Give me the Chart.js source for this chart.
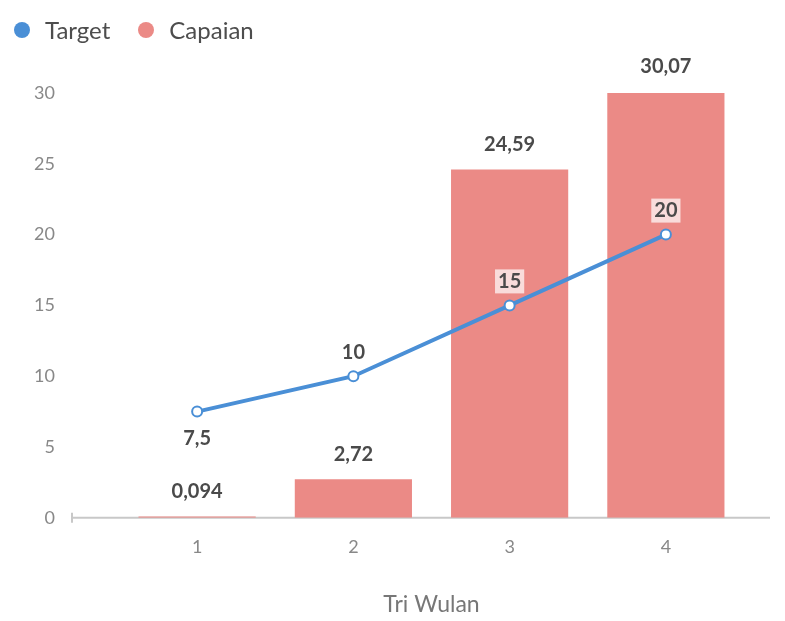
<!DOCTYPE html>
<html>
<head>
<meta charset="utf-8">
<script src="https://cdn.jsdelivr.net/npm/chart.js@4"></script>
<style>
  html, body { margin: 0; padding: 0; background: #fff; }
  #wrap { position: relative; width: 785px; height: 621px; }
  .legend { position: absolute; top: 16px; left: 14px; display: flex; align-items: center;
            font-family: Lato, sans-serif; font-size: 24px; color: #4d4d4d; line-height: 28px; }
  .legend .item { display: flex; align-items: center; margin-right: 28px; }
  .legend .dot { width: 16px; height: 16px; border-radius: 50%; margin-right: 15px; }
</style>
</head>
<body>
<div id="wrap">
  <canvas id="chart" width="785" height="621"></canvas>
  <div class="legend" id="legend"></div>
</div>
<script>
/* --- DATA --- */
const CATEGORIES = ['1', '2', '3', '4'];
const SERIES = ['Target', 'Capaian'];
const TARGET = [7.5, 10, 15, 20];
const CAPAIAN = [0.094, 2.72, 24.59, 30.07];
const TARGET_LABELS = ['7,5', '10', '15', '20'];
const CAPAIAN_LABELS = ['0,094', '2,72', '24,59', '30,07'];
const Y_TICKS = [0, 5, 10, 15, 20, 25, 30];

const BLUE = '#4a8fd6';
const PINK = '#eb8a86';

// value labels + base line
const valueLabels = {
  id: 'valueLabels',
  beforeDatasetsDraw(chart) {
    const { ctx, chartArea } = chart;
    const y = chart.scales.y.getPixelForValue(0);
    ctx.save();
    ctx.strokeStyle = '#c8c8c8';
    ctx.lineWidth = 2;
    ctx.beginPath();
    ctx.moveTo(chartArea.left - 47, y);
    ctx.lineTo(chartArea.right + 26, y);
    ctx.stroke();
    ctx.beginPath();
    ctx.moveTo(chartArea.left - 47, y - 5);
    ctx.lineTo(chartArea.left - 47, y + 5);
    ctx.stroke();
    ctx.restore();
  },
  afterDatasetsDraw(chart) {
    const ctx = chart.ctx;
    ctx.save();
    ctx.font = "bold 20px Lato, sans-serif";
    ctx.textAlign = 'center';
    ctx.textBaseline = 'middle';

    chart.getDatasetMeta(1).data.forEach((bar, i) => {
      ctx.fillStyle = '#4a4a4a';
      ctx.fillText(CAPAIAN_LABELS[i], bar.x, bar.y - 25);
    });

    // first target label sits under its point, the rest above
    chart.getDatasetMeta(0).data.forEach((pt, i) => {
      const y = i === 0 ? pt.y + 27 : pt.y - 24;
      if (i >= 2) {
        const w = ctx.measureText(TARGET_LABELS[i]).width + 6;
        ctx.fillStyle = 'rgba(255,255,255,0.7)';
        ctx.fillRect(pt.x - w / 2, y - 12, w, 24);
      }
      ctx.fillStyle = '#4a4a4a';
      ctx.fillText(TARGET_LABELS[i], pt.x, y);
    });
    ctx.restore();
  }
};

const chart = new Chart(document.getElementById('chart'), {
  data: {
    labels: CATEGORIES,
    datasets: [{
      type: 'line',
      label: SERIES[0],
      data: TARGET,
      order: 0,
      borderColor: BLUE,
      backgroundColor: BLUE,
      borderWidth: 4,
      pointRadius: 5,
      pointBorderWidth: 2,
      pointBackgroundColor: '#fff',
      pointBorderColor: BLUE,
      tension: 0
    }, {
      type: 'bar',
      label: SERIES[1],
      data: CAPAIAN,
      order: 1,
      backgroundColor: PINK,
      borderWidth: 0,
      categoryPercentage: 1,
      barPercentage: 0.75
    }]
  },
  options: {
    responsive: false,
    animation: false,
    layout: { padding: { left: 0, right: 41, top: 93, bottom: 3 } },
    plugins: {
      tooltip: { enabled: false },
      legend: { display: false }
    },
    scales: {
      x: {
        offset: true,
        grid: { display: false },
        border: { display: false },
        ticks: { color: '#888', font: { family: 'Lato', size: 18 }, padding: 11 },
        title: {
          display: true,
          text: 'Tri Wulan',
          color: '#777',
          font: { family: 'Lato', size: 23 },
          padding: { top: 21, bottom: 0 }
        }
      },
      y: {
        min: 0,
        max: 30,
        grid: { display: false },
        border: { display: false },
        afterBuildTicks(scale) { scale.ticks = Y_TICKS.map(v => ({ value: v })); },
        afterFit(scale) { scale.width = 119; },
        ticks: { color: '#888', font: { family: 'Lato', size: 18 }, padding: 56 }
      }
    }
  },
  plugins: [valueLabels]
});

// legend built from the datasets
document.getElementById('legend').innerHTML = chart.data.datasets.map(ds => `
  <div class="item"><span class="dot" style="background:${ds.backgroundColor}"></span>${ds.label}</div>
`).join('');
</script>
</body>
</html>
